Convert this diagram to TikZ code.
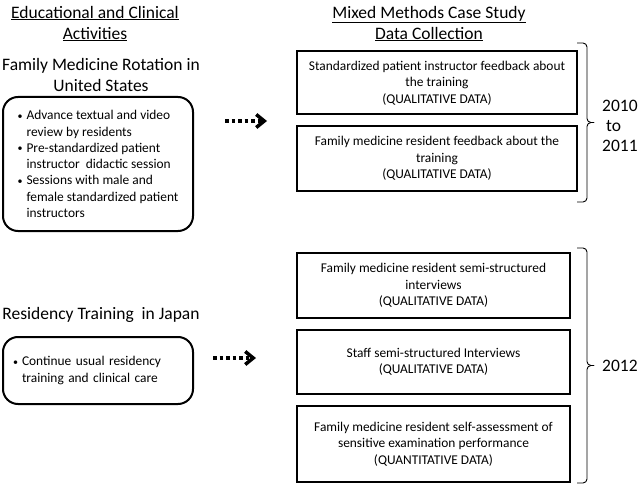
\documentclass[tikz,border=0pt]{standalone}
\usepackage{fontspec}
\setmainfont{Carlito}
\usetikzlibrary{arrows.meta,positioning}
\newcommand{\headsize}{\fontsize{17.5}{21}\selectfont}
\newcommand{\boxsize}{\fontsize{13.4}{16.3}\selectfont}
\newcommand{\yearsize}{\fontsize{17.5}{20}\selectfont}
\newcommand{\listdot}{\makebox[9pt][l]{\raisebox{0.5pt}{\fontsize{10}{10}\selectfont\textbullet}}}
\newcommand{\listgap}{\hspace*{9pt}}

\tikzset{
  heading/.style={align=center,font=\headsize,inner sep=0pt},
  actbox/.style={draw,line width=2pt,rounded corners=15pt,align=left,font=\boxsize,inner ysep=0pt},
  databox/.style={draw,line width=2pt,align=center,font=\boxsize,minimum width=280pt,minimum height=63pt,inner sep=0pt},
  dotarrow/.style={line width=3.5pt,dash pattern=on 3.5pt off 3pt,-{Straight Barb[length=8pt,width=13pt]}},
  yearbrace/.style={line width=0.9pt,rounded corners=4pt},
  yearlabel/.style={align=left,font=\yearsize,inner sep=0pt,anchor=west}
}

\begin{document}
\begin{tikzpicture}[x=1pt,y=-1pt]
  \useasboundingbox (0,0) rectangle (638,487);

  % left column
  \node[heading] (acthead) at (95,23.5) {\underline{Educational and Clinical}\\\underline{Activities}};
  \node[heading] (ushead) at (101,74.5) {Family Medicine Rotation in\\United States};
  \node[actbox,minimum width=190pt,minimum height=134pt] (usbox) at (98,164) {%
    \listdot Advance textual and video\\
    \listgap review by residents\\
    \listdot Pre-standardized patient\\
    \listgap instructor\ \ didactic session\\
    \listdot Sessions with male and\\
    \listgap female standardized patient\\
    \listgap instructors};
  \node[heading] (jphead) at (101,315) {Residency Training\ \ in Japan};
  \node[actbox,text width=170pt,inner xsep=10pt,minimum height=67pt] (jpbox) at (98,370.5) {%
    \listdot Continue usual residency\\
    \listgap training and clinical care};

  % right column
  \node[heading] (datahead) at (429,23.5) {\underline{Mixed Methods Case Study}\\\underline{Data Collection}};
  \node[databox] (spfeed) at (437,83) {Standardized patient instructor feedback about\\the training\\(QUALITATIVE DATA)};
  \node[databox,minimum height=64pt,below=10pt of spfeed] (resfeed) {Family medicine resident feedback about the\\training\\(QUALITATIVE DATA)};
  \node[databox,minimum width=273pt,minimum height=65pt] (resint) at (433.5,285.5) {Family medicine resident semi-structured\\interviews\\(QUALITATIVE DATA)};
  \node[databox,minimum width=273pt,minimum height=64pt,below=10pt of resint] (staffint) {Staff semi-structured Interviews\\(QUALITATIVE DATA)};
  \node[databox,minimum width=273pt,minimum height=76pt,below=10pt of staffint] (selfassess) {Family medicine resident self-assessment of\\sensitive examination performance\\(QUANTITATIVE DATA)};

  % arrows
  \coordinate (usfrom) at (225,121);
  \coordinate (usto) at (267,121);
  \coordinate (jpfrom) at (213,358);
  \coordinate (jpto) at (256,358);
  \draw[dotarrow] (usfrom) -- (usto);
  \draw[dotarrow] (jpfrom) -- (jpto);

  % braces and years
  \coordinate (firsttop) at (577,43);
  \coordinate (firstbot) at (577,202);
  \coordinate (firstspine) at (587,122.5);
  \coordinate (firsttip) at (594,122.5);
  \coordinate (secondtop) at (577,248);
  \coordinate (secondbot) at (577,483);
  \coordinate (secondspine) at (587,365.5);
  \coordinate (secondtip) at (594,365.5);
  \draw[yearbrace] (firsttop) -| (firstspine) -- (firsttip);
  \draw[yearbrace] (firstbot) -| (firstspine) -- (firsttip);
  \draw[yearbrace] (secondtop) -| (secondspine) -- (secondtip);
  \draw[yearbrace] (secondbot) -| (secondspine) -- (secondtip);
  \node[yearlabel] (firstyears) at (602,126) {2010\\\hspace{4pt}to\\2011};
  \node[yearlabel] (secondyear) at (602,366) {2012};
\end{tikzpicture}
\end{document}
